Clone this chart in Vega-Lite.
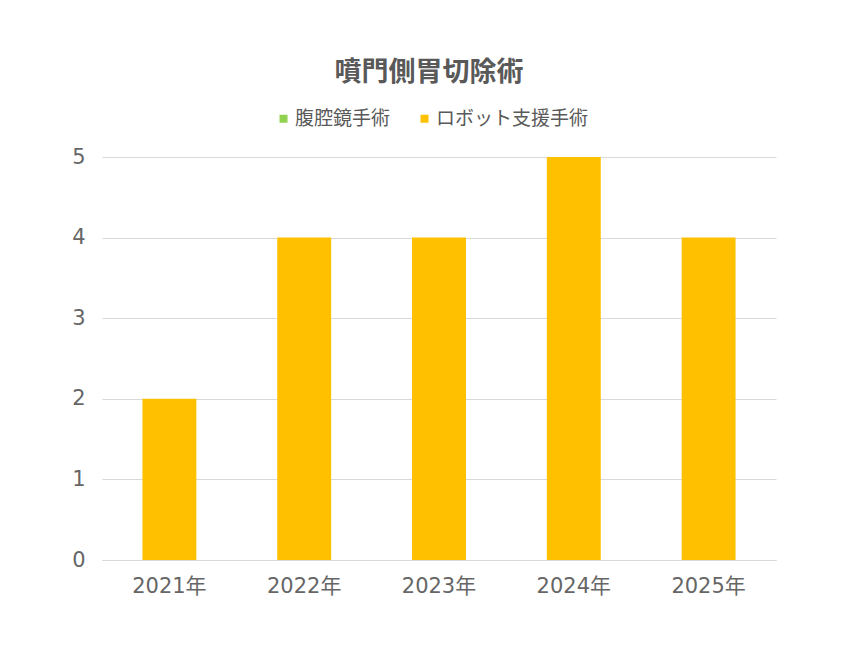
{
  "$schema": "https://vega.github.io/schema/vega-lite/v6.json",
  "autosize": {"type": "none"},
  "width": 674,
  "height": 403,
  "padding": {"left": 102, "top": 157, "right": 74, "bottom": 85},
  "background": "white",
  "title": {
    "text": "噴門側胃切除術",
    "anchor": "middle",
    "dx": -10,
    "offset": 22,
    "fontSize": 27,
    "fontWeight": "bold",
    "color": "#595959",
    "font": "Noto Sans CJK JP"
  },
  "data": {
    "values": [
      {"year": "2021年", "type": "腹腔鏡手術", "count": 0},
      {"year": "2022年", "type": "腹腔鏡手術", "count": 0},
      {"year": "2023年", "type": "腹腔鏡手術", "count": 0},
      {"year": "2024年", "type": "腹腔鏡手術", "count": 0},
      {"year": "2025年", "type": "腹腔鏡手術", "count": 0},
      {"year": "2021年", "type": "ロボット支援手術", "count": 2},
      {"year": "2022年", "type": "ロボット支援手術", "count": 4},
      {"year": "2023年", "type": "ロボット支援手術", "count": 4},
      {"year": "2024年", "type": "ロボット支援手術", "count": 5},
      {"year": "2025年", "type": "ロボット支援手術", "count": 4}
    ]
  },
  "mark": {"type": "bar"},
  "encoding": {
    "x": {
      "field": "year",
      "type": "nominal",
      "title": null,
      "scale": {"paddingInner": 0.6, "paddingOuter": 0.3},
      "axis": {
        "labelAngle": 0,
        "domainColor": "#d9d9d9",
        "ticks": false,
        "labelPadding": 15,
        "labelFontSize": 21,
        "labelColor": "#666666",
        "labelFont": "DejaVu Sans, Noto Sans CJK JP"
      }
    },
    "y": {
      "field": "count",
      "type": "quantitative",
      "stack": "zero",
      "title": null,
      "scale": {"domain": [0, 5]},
      "axis": {
        "values": [0, 1, 2, 3, 4, 5],
        "domain": false,
        "ticks": false,
        "gridColor": "#d9d9d9",
        "labelPadding": 17,
        "labelFontSize": 21,
        "labelColor": "#666666",
        "labelFont": "DejaVu Sans, Noto Sans CJK JP"
      }
    },
    "color": {
      "field": "type",
      "type": "nominal",
      "title": null,
      "sort": ["腹腔鏡手術", "ロボット支援手術"],
      "scale": {
        "domain": ["腹腔鏡手術", "ロボット支援手術"],
        "range": ["#92d050", "#ffc000"]
      },
      "legend": {
        "orient": "none",
        "direction": "horizontal",
        "legendX": 172,
        "legendY": -48,
        "symbolType": "square",
        "symbolSize": 64,
        "symbolStrokeWidth": 0,
        "labelFontSize": 19,
        "labelColor": "#595959",
        "labelOffset": 2,
        "columnPadding": 24,
        "labelLimit": 300
      }
    },
    "order": {"field": "type", "sort": "descending"}
  },
  "config": {
    "font": "Noto Sans CJK JP",
    "view": {"stroke": null}
  }
}
